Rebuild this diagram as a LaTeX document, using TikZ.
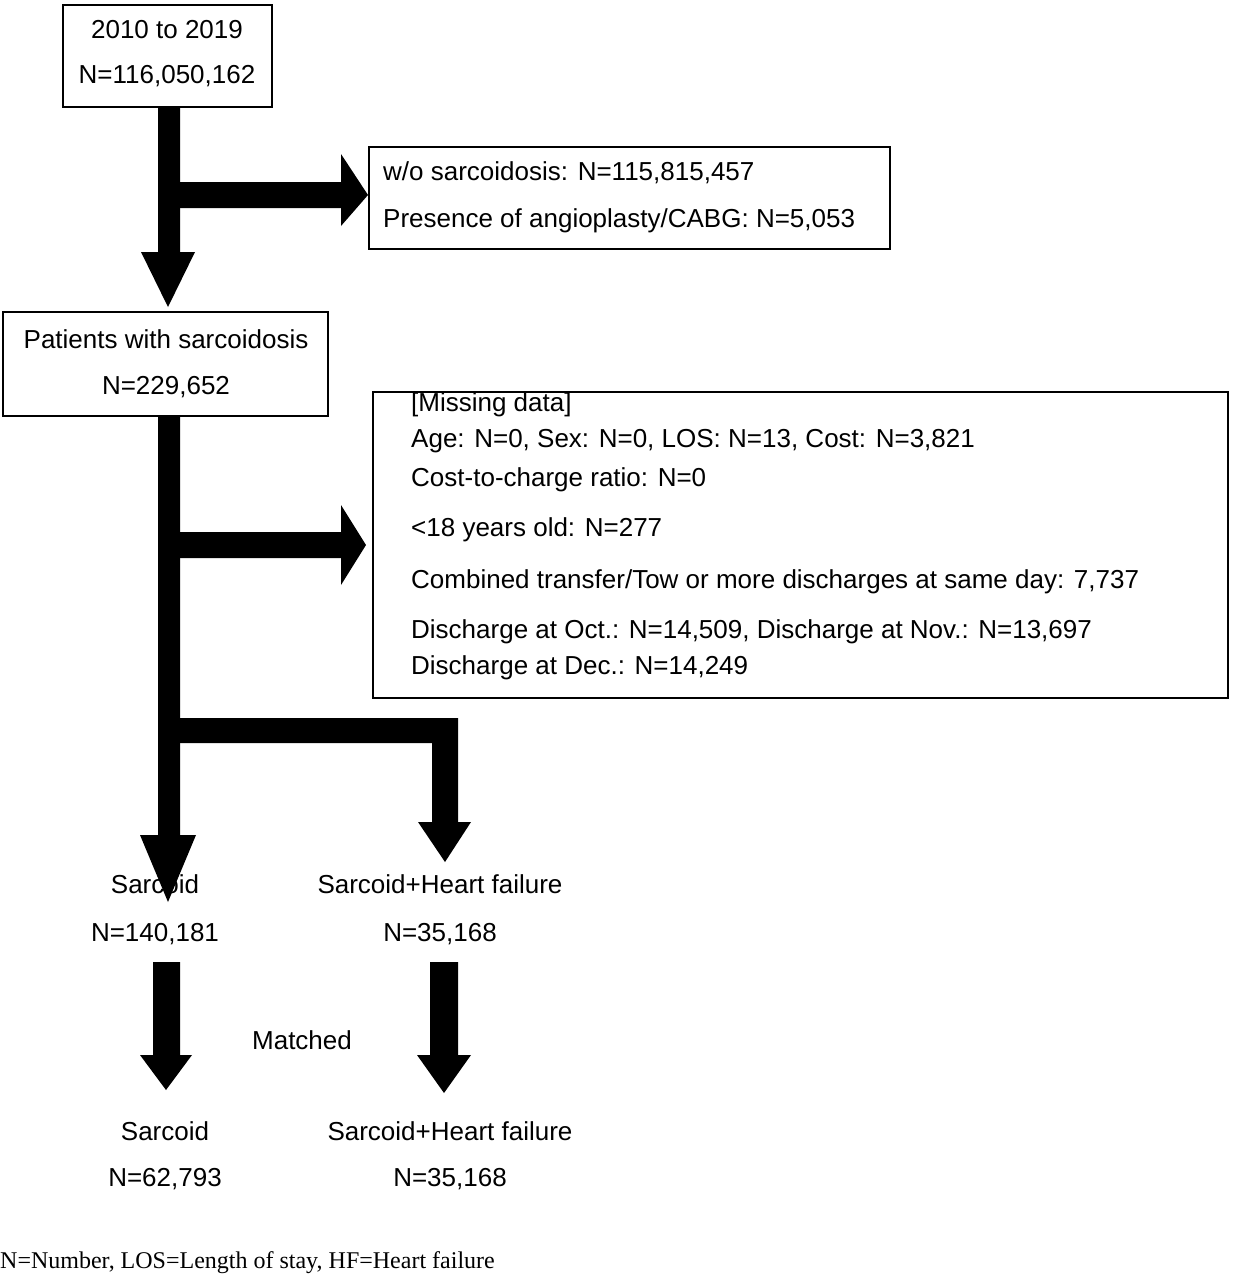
\documentclass[tikz,border=0pt]{standalone}
\usepackage{fontspec}
\setmainfont{Liberation Sans}
\newfontfamily\timesf{Liberation Serif}
\begin{document}
\begin{tikzpicture}[x=1pt,y=-1pt,
 box/.style={draw,line width=1.5pt},
 txt/.style={font=\fontsize{26}{30}\selectfont,inner sep=0pt},
 ltxt/.style={txt,anchor=west},
 bar/.style={fill=black}]
\useasboundingbox (0,0) rectangle (1232,1280);
% boxes
\draw[box] (63,5) rectangle (272,107);
\node[txt] (a1) at (167,30) {2010 to 2019};
\node[txt] (a2) at (167,76) {N=116,050,162};
\draw[box] (369,147) rectangle (890,249);
\node[ltxt] (b1) at (383,173) {w/o sarcoidosis: N=115,815,457};
\node[ltxt] (b2) at (383,221) {Presence of angioplasty/CABG: N=5,053};
\draw[box] (3,312) rectangle (328,416);
\node[txt] (c1) at (166,339) {Patients with sarcoidosis};
\node[txt] (c2) at (166,387) {N=229,652};
\draw[box] (373,392) rectangle (1228,698);
\node[ltxt] (d1) at (411,405) {[Missing data]};
\node[ltxt] (d2) at (411,441) {Age: N=0, Sex: N=0, LOS: N=13, Cost: N=3,821};
\node[ltxt] (d3) at (411,480) {Cost-to-charge ratio: N=0};
\node[ltxt] (d4) at (411,530) {<18 years old: N=277};
\node[ltxt] (d5) at (411,582) {Combined transfer/Tow or more discharges at same day: 7,737};
\node[ltxt] (d6) at (411,632) {Discharge at Oct.: N=14,509, Discharge at Nov.: N=13,697};
\node[ltxt] (d7) at (411,668) {Discharge at Dec.: N=14,249};
% arrows top
\fill[bar] (158,107) rectangle (180,252) (141,252) -- (195,252) -- (168,307) -- cycle;
\fill[bar] (180,182) rectangle (341,208) (341,154) -- (368,195) -- (341,226) -- cycle;
% arrows middle
\fill[bar] (158,416) rectangle (180,835) (140,835) -- (196,835) -- (168,902) -- cycle;
\fill[bar] (180,532) rectangle (341,558) (341,505) -- (366,545) -- (341,585) -- cycle;
\fill[bar] (180,718) rectangle (458,743) (432,718) rectangle (458,822) (418,822) -- (471,822) -- (445,862) -- cycle;
\node[txt] (e1) at (155,884) {Sarcoid};
\node[txt] (e2) at (155,934) {N=140,181};
\node[txt] (f1) at (440,884) {Sarcoid+Heart failure};
\node[txt] (f2) at (440,934) {N=35,168};
\fill[bar] (153,962) rectangle (180,1055) (140,1055) -- (192,1055) -- (166,1090) -- cycle;
\fill[bar] (430,962) rectangle (458,1055) (417,1055) -- (471,1055) -- (444,1093) -- cycle;
\node[txt] (m) at (302,1040) {Matched};
\node[txt] (g1) at (165,1131) {Sarcoid};
\node[txt] (g2) at (165,1179) {N=62,793};
\node[txt] (h1) at (450,1131) {Sarcoid+Heart failure};
\node[txt] (h2) at (450,1179) {N=35,168};
\node[inner sep=0pt,anchor=west,font=\timesf\fontsize{24}{28}\selectfont] (foot) at (0,1263) {N=Number, LOS=Length of stay, HF=Heart failure};
\end{tikzpicture}
\end{document}
